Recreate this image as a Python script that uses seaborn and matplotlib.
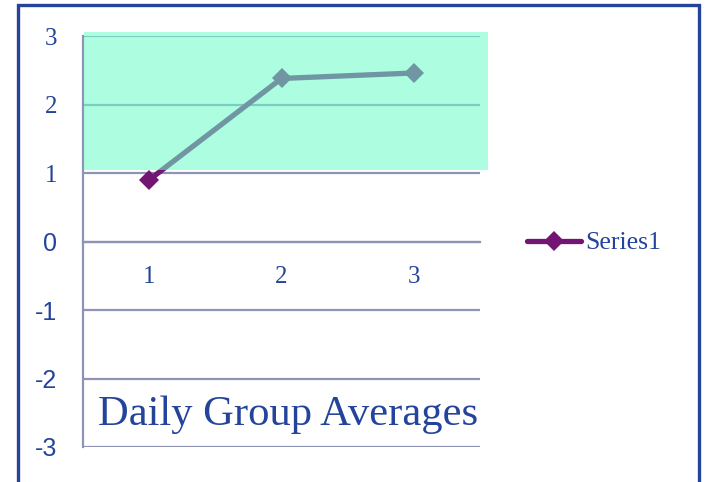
import matplotlib
matplotlib.use("Agg")
import matplotlib.pyplot as plt
import seaborn as sns
import pandas as pd
from matplotlib.patches import Rectangle
from matplotlib.lines import Line2D

# Chart data
days = [1, 2, 3]
averages = [0.90, 2.38, 2.46]
y_ticks = [3, 2, 1, 0, -1, -2, -3]
series_name = "Series1"
title = "Daily Group Averages"

sns.set_style("white")
SERIF = ["Liberation Serif", "DejaVu Serif"]
SANS = ["Liberation Sans", "DejaVu Sans"]
plt.rcParams["font.family"] = SERIF

NAVY = "#23449a"
GRID = "#8f93b6"
PURPLE = "#731572"
BAND = (109 / 255, 252 / 255, 200 / 255)

W, H = 706, 482
fig = plt.figure(figsize=(W / 100, H / 100), dpi=100)
fig.patch.set_facecolor("white")
ax = fig.add_axes([83 / W, (H - 447) / H, (480 - 83) / W, (447 - 36) / H])
ax.set_facecolor("none")

df = pd.DataFrame({"day": days, "avg": averages, "series": series_name})
sns.lineplot(data=df, x="day", y="avg", color=PURPLE, marker="D",
             markersize=10, markeredgewidth=0, markeredgecolor=PURPLE,
             linewidth=3.8, ax=ax, zorder=3, legend=False)

ax.set_xlim(0.5, 3.5)
ax.set_ylim(-3, 3)
ax.set_xlabel("")
ax.set_ylabel("")

# translucent highlight band laid over the upper part of the plot
ax.add_patch(Rectangle((0.508, 1.045), 3.56 - 0.508, 3.06 - 1.045,
                       facecolor=BAND, alpha=0.56, edgecolor="none",
                       zorder=4, clip_on=False))

# axes styling
for side in ("top", "right"):
    ax.spines[side].set_visible(False)
ax.spines["left"].set_color(GRID)
ax.spines["left"].set_linewidth(1.6)
ax.spines["bottom"].set_position(("data", 0))
ax.spines["bottom"].set_color(GRID)
ax.spines["bottom"].set_linewidth(1.6)

ax.set_yticks(y_ticks)
ax.set_yticklabels([str(v) for v in y_ticks])
for lab, v in zip(ax.get_yticklabels(), y_ticks):
    lab.set_fontfamily(SERIF if v > 0 else SANS)
ax.tick_params(axis="y", length=8, width=1.6, color=GRID, pad=10.5,
               labelsize=18, labelcolor=NAVY)
ax.grid(axis="y", color=GRID, linewidth=1.6)
ax.grid(axis="x", visible=False)

ax.set_xticks(days)
ax.set_xticklabels([str(d) for d in days])
ax.set_xticks([1.5, 2.5, 3.5], minor=True)
ax.tick_params(axis="x", which="major", length=0, pad=17.5,
               labelsize=18, labelcolor=NAVY)
ax.tick_params(axis="x", which="minor", length=7, width=1.6, color=GRID,
               direction="out")

# legend
handle = Line2D([], [], color=PURPLE, lw=3.8, marker="D", markersize=10,
                markeredgewidth=0)
fig.legend([handle], [series_name], loc="center left",
           bbox_to_anchor=(527 / W, 1 - 243 / H), frameon=False,
           handlelength=2.1, handletextpad=0.15, borderpad=0,
           borderaxespad=0, prop={"family": SERIF, "size": 18.5},
           labelcolor=NAVY)

# title inside the plot area
fig.text(98 / W, 1 - 425 / H, title, fontsize=30.7, color=NAVY,
         ha="left", va="baseline", family=SERIF)

# outer frame
fig.patches.append(Rectangle((18 / W, -0.05), (699 - 18) / W, 1.05 - 5 / H,
                             transform=fig.transFigure, fill=False,
                             edgecolor=NAVY, linewidth=2.4))

fig.savefig("out.png", dpi=100)
